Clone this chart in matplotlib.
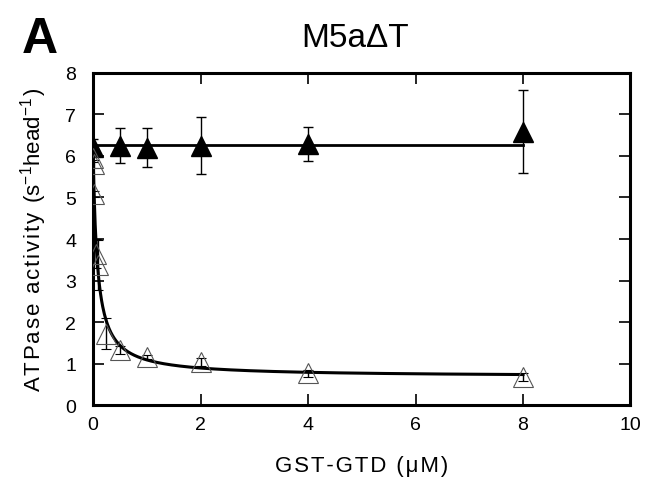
import numpy as np
import matplotlib
matplotlib.use("Agg")
import matplotlib.pyplot as plt

plt.rcParams['font.family'] = ['Liberation Sans', 'DejaVu Sans']
plt.rcParams['mathtext.fontset'] = 'custom'
plt.rcParams['mathtext.rm'] = 'Liberation Sans'
plt.rcParams['mathtext.it'] = 'Liberation Sans'

# Filled triangles (no inhibition)
x_filled = [0, 0.5, 1, 2, 4, 8]
y_filled = [6.22, 6.25, 6.2, 6.25, 6.29, 6.59]
e_filled = [0.2, 0.43, 0.47, 0.68, 0.41, 1.0]
flat_level = 6.27

# Open triangles (inhibition)
x_open = [0.005, 0.01, 0.025, 0.05, 0.1, 0.25, 0.5, 1, 2, 4, 8]
y_open = [5.95, 5.8, 5.08, 3.65, 3.38, 1.72, 1.33, 1.15, 1.04, 0.76, 0.68]
e_open = [0.1, 0.1, 0.08, 0.35, 0.6, 0.38, 0.1, 0.05, 0.1, 0.08, 0.1]

# Hyperbolic fit parameters
fit_vmin = 0.68
fit_amp = 5.5
fit_K = 0.08

HS = '\u200a'


def spaced(s):
    return HS.join(s)


fig = plt.figure(figsize=(6.46, 4.89), dpi=100)
ax = fig.add_axes([0.144, 0.1697, 0.832, 0.679])

ax.plot([0, 8], [flat_level, flat_level], color='black', lw=2.0, zorder=2)
xf = np.linspace(0, 8, 800)
yf = fit_vmin + fit_amp * fit_K / (fit_K + xf)
ax.plot(xf, yf, color='black', lw=2.2, zorder=2)

ax.errorbar(x_filled, y_filled, yerr=e_filled, fmt='^', color='black',
            markersize=14, ecolor='black', elinewidth=1.0, capsize=3.5,
            capthick=1.0, zorder=3)
ax.errorbar(x_open, y_open, yerr=e_open, fmt='^', mfc='none', mec='#555555',
            mew=0.8, markersize=14, ecolor='black', elinewidth=1.0,
            capsize=3.5, capthick=1.0, zorder=3)

ax.set_xlim(0, 10)
ax.set_ylim(0, 8)
ax.set_xticks(range(0, 11, 2))
ax.set_yticks(range(0, 9))
ax.tick_params(direction='in', length=8, width=1.2, top=True, right=True,
               labelsize=14)
ax.tick_params(axis='x', pad=8)
ax.tick_params(axis='y', pad=12)
for s in ax.spines.values():
    s.set_linewidth(2.2)

ax.set_xlabel(spaced('GST-GTD (μM)'), fontsize=16, labelpad=16)
ax.set_ylabel(spaced('ATPase activity (') + 's$^{-1}$head$^{-1}$' + HS + ')',
              fontsize=16, labelpad=12)

fig.text(0.55, 0.922, 'M5aΔT', fontsize=24, ha='center', va='center')
fig.text(0.062, 0.918, 'A', fontsize=36, fontweight='bold', ha='center', va='center')

fig.savefig('out.png', dpi=100)
